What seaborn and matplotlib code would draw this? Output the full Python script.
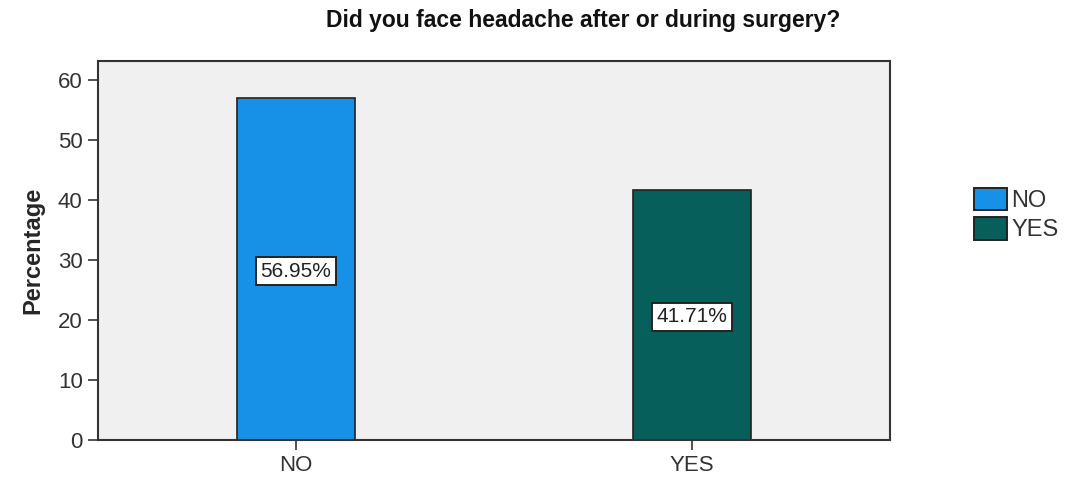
import matplotlib
matplotlib.use("Agg")
import matplotlib.pyplot as plt
import seaborn as sns
import pandas as pd
from matplotlib.patches import Patch

categories = ["NO", "YES"]
values = [56.95, 41.71]
labels = ["56.95%", "41.71%"]
colors = ["#1791e8", "#075f5b"]

sns.set_style("white")
plt.rcParams["font.family"] = ["Liberation Sans", "DejaVu Sans"]

df = pd.DataFrame({"answer": categories, "pct": values})

fig = plt.figure(figsize=(10.7, 4.82), dpi=100)
ax = fig.add_axes([98/1070, 42/482, 792/1070, 379/482])
ax.set_facecolor("#f0f0f0")

sns.barplot(data=df, x="answer", y="pct", hue="answer", palette=colors, saturation=1,
            width=0.3, edgecolor="#222222", linewidth=1.2, legend=False, ax=ax,
            dodge=False)

ax.set_xlim(-0.5, 1.5)
ax.set_ylim(0, 63.2)
ax.set_yticks([0, 10, 20, 30, 40, 50, 60])
ax.tick_params(axis="both", labelsize=16, colors="#333333", length=7, width=1.2,
               direction="out", left=True, bottom=True)
ax.tick_params(axis="x", pad=4)
ax.tick_params(axis="y", pad=4)
for t in ax.get_xticklabels() + ax.get_yticklabels():
    t.set_color("#333333")
ax.set_xlabel("")
ax.set_ylabel("Percentage", fontsize=17, fontweight="bold", labelpad=10)
for s in ax.spines.values():
    s.set_color("#333333")
    s.set_linewidth(1.5)
    s.set_visible(True)

for i, (v, lab) in enumerate(zip(values, labels)):
    ax.text(i, v / 2 - 0.3, lab, ha="center", va="center", fontsize=15, color="#222222",
            bbox=dict(boxstyle="square,pad=0.22", facecolor="white", edgecolor="#222222", linewidth=1.4))

fig.text(0.545, 0.957, "Did you face headache after or during surgery?", ha="center", va="center",
         fontsize=16.5, fontweight="bold", color="#111111")

handles = [Patch(facecolor=c, edgecolor="#222222", linewidth=1.4, label=l) for c, l in zip(colors, categories)]
fig.legend(handles=handles, loc="center left", bbox_to_anchor=(0.89, 0.555), frameon=False,
           fontsize=17, handlelength=1.4, handleheight=1.1, handletextpad=0.2, labelspacing=0.2,
           labelcolor="#333333")

fig.savefig("out.png", dpi=100)
